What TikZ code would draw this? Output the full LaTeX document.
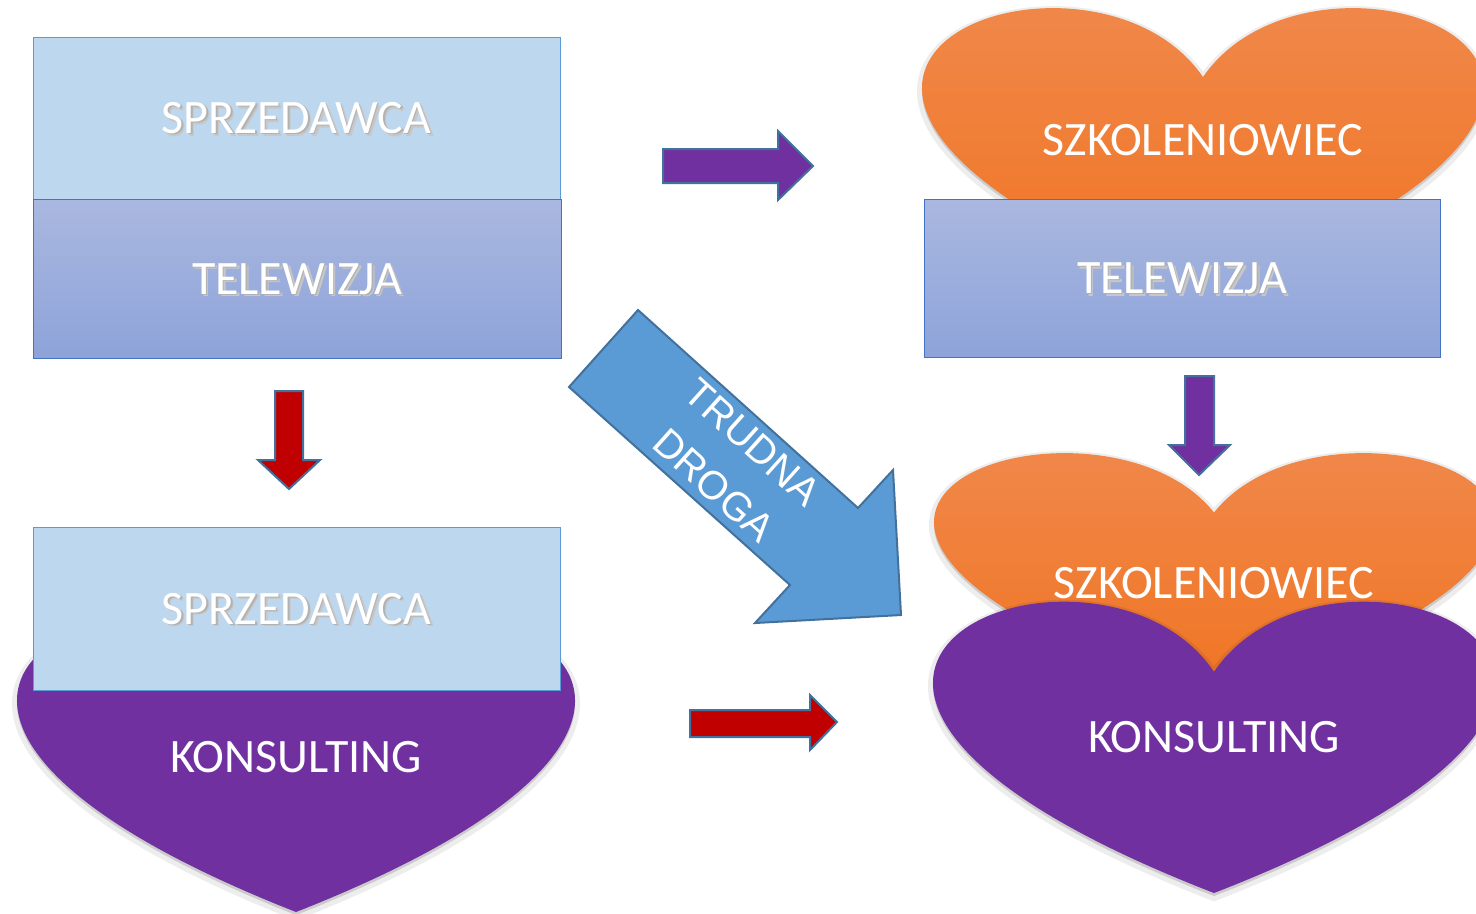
\documentclass[tikz,border=0pt]{standalone}
\usepackage{fontspec}
\setmainfont{Carlito}
\newfontfamily\arialfont{Liberation Sans}
\definecolor{lbfill}{HTML}{BDD7EE}
\definecolor{lbline}{HTML}{5B9BD5}
\definecolor{tvtop}{HTML}{AAB8E0}
\definecolor{tvbot}{HTML}{8DA3D9}
\definecolor{tvline}{HTML}{4472C4}
\definecolor{ortop}{HTML}{F08E57}
\definecolor{orbot}{HTML}{F07422}
\definecolor{purp}{HTML}{7030A0}
\definecolor{redarr}{HTML}{C00000}
\definecolor{arrline}{HTML}{41719C}
\definecolor{bluearr}{HTML}{5B9BD5}
\newcommand\shd[1]{\rlap{\hspace{0.7pt}\raisebox{-0.7pt}{\color{black!22}#1}}\rlap{\hspace{0.35pt}\raisebox{-0.35pt}{\color{black!30}#1}}#1}
% heart: cx, top, width, height, style  (units: reference pixels)
\newcommand\myheart[5]{\path[#5] (#1,{#2+#4/4}) .. controls ({#1+0.208333*#3},{#2-#4/3}) and ({#1+1.020833*#3},{#2+#4/4}) .. (#1,{#2+#4}) .. controls ({#1-1.020833*#3},{#2+#4/4}) and ({#1-0.208333*#3},{#2-#4/3}) .. (#1,{#2+#4/4}) -- cycle;}
\newcommand\heartwithshadow[5]{%
  \myheart{#1}{#2}{#3}{#4}{shift={(0,3)}, draw=black, line width=2.5pt, draw opacity=0.07, fill=black, fill opacity=0.14}%
  \myheart{#1}{#2}{#3}{#4}{#5}}
\tikzset{
  bigtext/.style={text=white, inner sep=0pt, font=\fontsize{12}{14.5}\selectfont, text height=7.75pt, text depth=0pt},
  lbbox/.style={bigtext, draw=lbline, line width=0.25pt, fill=lbfill},
  tvbox/.style={bigtext, draw=tvline, line width=0.25pt, top color=tvtop, bottom color=tvbot},
  htext/.style={bigtext},
  orheart/.style={top color=ortop, bottom color=orbot},
  puheart/.style={fill=purp},
  blockarr/.style={draw=arrline, line width=0.5pt, line join=miter},
}
\begin{document}
\begin{tikzpicture}[x=0.25pt,y=-0.25pt]
\fill[white] (0,0) rectangle (1476,913);
\useasboundingbox (0,0) rectangle (1476,913);

% ---- top left: SPRZEDAWCA / TELEWIZJA
\node[lbbox, minimum width=131.75pt, minimum height=40.5pt] (sp1) at (296.5,118) {\shd{SPRZEDAWCA}};
\node[tvbox, minimum width=132pt, minimum height=39.75pt] (tv1) at (297,278.5) {\shd{TELEWIZJA}};

% ---- bottom left: heart KONSULTING + SPRZEDAWCA
\heartwithshadow{296}{615}{554}{297}{puheart}
\node[lbbox, minimum width=131.75pt, minimum height=40.75pt] (sp2) at (296.5,608.5) {\shd{SPRZEDAWCA}};
\node[htext] (ko1) at (296,757) {KONSULTING};

% ---- top right: heart SZKOLENIOWIEC + TELEWIZJA
\heartwithshadow{1203}{4.5}{558}{290}{orheart}
\node[htext] (sz1) at (1203,140) {SZKOLENIOWIEC};
\node[tvbox, minimum width=129pt, minimum height=39.5pt] (tv2) at (1182,278) {\shd{TELEWIZJA}};

% ---- bottom right: two hearts
\heartwithshadow{1214}{450}{556}{250}{orheart}
\node[htext] (sz2) at (1214,583) {SZKOLENIOWIEC};
\heartwithshadow{1214}{598}{558}{295}{puheart}
\node[htext] (ko2) at (1214,737) {KONSULTING};

% ---- block arrows
\path[blockarr, fill=purp] (663,149) -- (778,149) -- (778,131) -- (813,166) -- (778,200) -- (778,183) -- (663,183) -- cycle;
\path[blockarr, fill=redarr] (275,391) -- (303,391) -- (303,460) -- (320,460) -- (289,489) -- (258,460) -- (275,460) -- cycle;
\path[blockarr, fill=redarr] (690,710) -- (810,710) -- (810,695) -- (837,722) -- (810,750) -- (810,737) -- (690,737) -- cycle;
\path[blockarr, fill=purp] (1185,376) -- (1214,376) -- (1214,445) -- (1230,445) -- (1199,475) -- (1169,445) -- (1185,445) -- cycle;
\path[blockarr, fill=bluearr] (638,310) -- (858,508) -- (893,470) -- (901,615) -- (755,623) -- (790,585) -- (569,387) -- cycle;
\node[text=white, rotate=-42, align=center, inner sep=0pt, font=\arialfont\fontsize{10}{14.5}\selectfont] (td) at (733,464) {TRUDNA\\DROGA};
\end{tikzpicture}
\end{document}
